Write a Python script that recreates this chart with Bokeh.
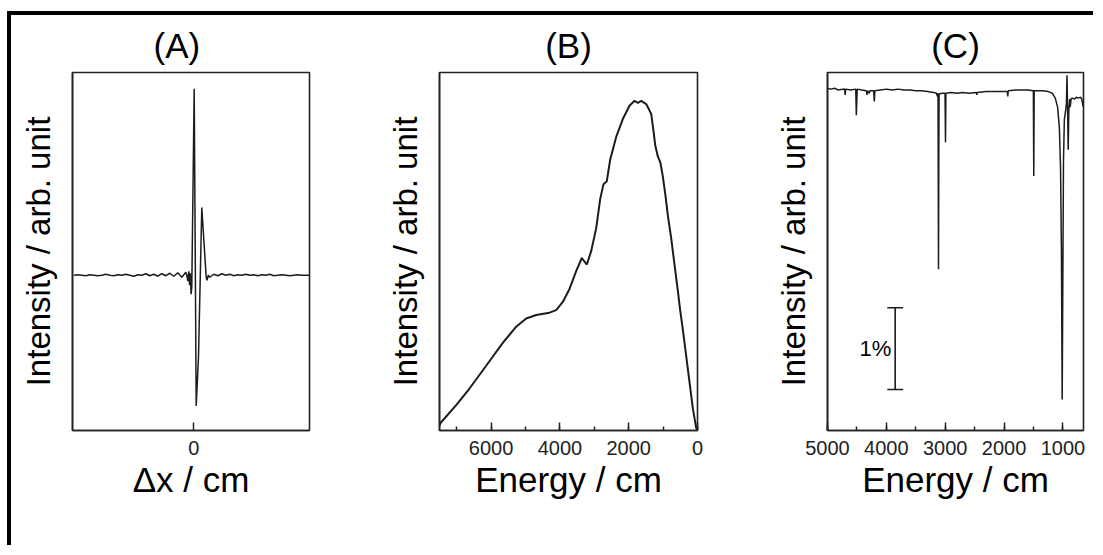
from bokeh.plotting import figure
from bokeh.layouts import row
from bokeh.models import FixedTicker, SingleIntervalTicker, Range1d
from bokeh.embed import file_html
from bokeh.resources import INLINE
from bokeh.core.properties import value

FONT = "Liberation Sans"
INK = "#1c1c1c"

# ---------------- data ----------------
titles = ["(A)", "(B)", "(C)"]
x_labels = ["\u0394x / cm", "Energy / cm", "Energy / cm"]
y_label = "Intensity / arb. unit"

# (A) interferogram
a_dx = [-0.120, -0.116, -0.112, -0.108, -0.104, -0.100, -0.096, -0.092, -0.088,
        -0.084, -0.080, -0.076, -0.072, -0.068, -0.064, -0.060, -0.056, -0.052,
        -0.048, -0.044, -0.040, -0.036, -0.032, -0.028, -0.024, -0.020, -0.016,
        -0.012, -0.008, -0.0070, -0.0060, -0.0050, -0.0042, -0.0035, -0.0027,
        -0.0020, 0.0004, 0.0024, 0.0047, 0.0080, 0.0124, 0.0132, 0.0145,
        0.016, 0.020, 0.024, 0.028, 0.032, 0.036, 0.040, 0.044, 0.048, 0.052,
        0.056, 0.060, 0.064, 0.068, 0.072, 0.076, 0.080, 0.084, 0.088, 0.092,
        0.096, 0.100, 0.104, 0.108, 0.112, 0.1157]
a_int = [0.000, 0.005, 0.000, -0.005, 0.005, 0.000, -0.005, 0.000, 0.010,
         0.000, -0.005, 0.005, 0.000, 0.010, 0.000, -0.010, 0.005, 0.000,
         0.015, -0.005, 0.010, -0.010, 0.015, -0.005, 0.020, -0.010, 0.025,
         -0.020, 0.030, 0.000, -0.060, 0.040, -0.100, 0.020, -0.190,
         -0.120, 1.87, -1.31, -0.82, 0.68, -0.02, -0.05, 0.00,
         -0.02, 0.01, -0.005, 0.015, 0.000, 0.010, -0.005, 0.005, 0.000, 0.010,
         0.000, 0.005, -0.005, 0.005, 0.000, 0.010, -0.005, 0.000, 0.005, 0.000,
         -0.005, 0.000, 0.005, 0.000, 0.000, 0.000]
a_ticks = [0]

# (B) single-beam spectrum
b_energy = [7500, 7471, 7015, 6628, 6143, 5660, 5271, 4980, 4689, 4302, 4108,
            3915, 3721, 3527, 3362, 3217, 3091, 2946, 2829, 2733, 2636, 2539,
            2364, 2171, 1977, 1831, 1734, 1637, 1491, 1346, 1269, 1230, 1153,
            1076, 1008, 930, 862, 765, 669, 572, 504, 426, 329, 232, 136, 39, 0]
b_int = [0.015, 0.023, 0.078, 0.129, 0.199, 0.269, 0.319, 0.344, 0.355, 0.362,
         0.370, 0.395, 0.435, 0.490, 0.530, 0.510, 0.551, 0.621, 0.711, 0.757,
         0.766, 0.832, 0.902, 0.957, 0.998, 1.013, 1.007, 1.013, 1.003, 0.973,
         0.912, 0.877, 0.842, 0.822, 0.781, 0.721, 0.661, 0.591, 0.510, 0.430,
         0.370, 0.310, 0.229, 0.149, 0.068, 0.008, 0.000]

# (C) transmittance spectrum (y in %)
c_energy = [5000, 4940, 4880, 4820, 4710, 4700, 4690, 4600, 4520, 4510, 4495,
            4420, 4340, 4330, 4320, 4290, 4280, 4215, 4205, 4195, 4100, 4000,
            3900, 3800, 3700, 3600, 3500, 3400, 3300, 3200, 3150, 3130, 3122,
            3118, 3114, 3108, 3104, 3050, 3003, 2995, 2988, 2900, 2800, 2700,
            2600, 2470, 2463, 2455, 2300, 2100, 1945, 1937, 1929, 1800, 1700,
            1600, 1502, 1495, 1488, 1350, 1250, 1180, 1130, 1090, 1060, 1040,
            1025, 1012, 1000, 990, 975, 955, 940, 930, 920, 910, 900, 885, 876,
            860, 842, 800, 774, 740, 700, 680, 662, 650]
c_trans = [4.18, 4.17, 4.18, 4.16, 4.17, 4.10, 4.17, 4.16, 4.17, 3.85, 4.17,
           4.16, 4.15, 4.10, 4.15, 4.12, 4.15, 4.15, 4.02, 4.15, 4.16, 4.17,
           4.16, 4.17, 4.16, 4.16, 4.15, 4.15, 4.14, 4.13, 4.12, 4.08, 4.12,
           3.00, 1.97, 3.50, 4.11, 4.12, 4.12, 3.52, 4.12, 4.13, 4.12, 4.13,
           4.12, 4.13, 4.10, 4.13, 4.14, 4.14, 4.14, 4.08, 4.15, 4.16, 4.16,
           4.16, 4.15, 3.11, 4.15, 4.15, 4.14, 4.12, 4.06, 3.95, 3.70, 3.20,
           2.20, 0.38, 2.00, 3.30, 3.80, 3.90, 4.00, 4.34, 3.90, 3.43, 3.90,
           4.05, 3.95, 4.05, 4.06, 4.05, 4.07, 4.06, 4.07, 4.05, 3.98, 3.95]
scale_bar_x = 3850
scale_bar_y = [0.5, 1.5]
scale_bar_cap = 135
scale_label = "1%"
scale_label_x = 3915
scale_label_y = 1.0


def base_fig(width, height, bl, br, bt, bb, xr, yr, title):
    p = figure(width=width, height=height,
               x_range=Range1d(*xr), y_range=Range1d(*yr),
               output_backend="svg", toolbar_location=None,
               min_border_left=bl, min_border_right=br,
               min_border_top=bt, min_border_bottom=bb)
    p.grid.visible = False
    p.background_fill_color = "white"
    p.border_fill_color = "white"
    p.outline_line_color = "#222222"
    p.outline_line_width = 1.6
    p.title.text = title
    p.title.align = "center"
    p.title.text_font = FONT
    p.title.text_font_size = "35px"
    p.title.text_font_style = "normal"
    p.title.text_color = "black"
    p.title.standoff = 16
    for ax in p.axis:
        ax.axis_line_color = "#222222"
        ax.axis_line_width = 1.6
        ax.major_tick_out = 0
        ax.minor_tick_out = 0
        ax.major_tick_line_color = "#222222"
        ax.minor_tick_line_color = "#222222"
        ax.major_tick_line_width = 1.5
        ax.minor_tick_line_width = 1.5
        ax.major_label_text_font = FONT
        ax.major_label_text_font_size = "20px"
        ax.major_label_text_color = "#222222"
        ax.major_label_standoff = 10
        ax.axis_label_text_font = FONT
        ax.axis_label_text_font_style = "normal"
        ax.axis_label_text_color = "black"
    p.yaxis.ticker = FixedTicker(ticks=[], minor_ticks=[])
    p.yaxis.major_tick_in = 0
    p.yaxis.minor_tick_in = 0
    p.yaxis.axis_label = y_label
    p.yaxis.axis_label_text_font_size = "33px"
    p.yaxis.axis_label_standoff = 16
    p.xaxis.major_tick_in = 8
    p.xaxis.minor_tick_in = 4
    p.xaxis.axis_label_text_font_size = "35px"
    p.xaxis.axis_label_standoff = 2
    return p


# Panel A
pa = base_fig(368, 530, 61, 70, 56, 115, (-0.1213, 0.1157), (-1.557, 2.033), titles[0])
pa.title.align = "left"
pa.title.offset = 81
pa.xaxis.ticker = FixedTicker(ticks=a_ticks, minor_ticks=[])
pa.xaxis.axis_label = x_labels[0]
pa.line(a_dx, a_int, line_color=INK, line_width=1.5)

# Panel B
pb = base_fig(370, 530, 60, 52, 56, 109, (7500, 0), (0, 1.1), titles[1])
pb.xaxis.ticker = SingleIntervalTicker(interval=2000, num_minor_ticks=2)
pb.xaxis.axis_label = x_labels[1]
pb.line(b_energy, b_int, line_color=INK, line_width=2)

# Panel C
pc = base_fig(344, 530, 78, 10, 55, 112, (5000, 650), (0, 4.373), titles[2])
pc.xaxis.ticker = SingleIntervalTicker(interval=1000, num_minor_ticks=2)
pc.xaxis.axis_label = x_labels[2]
pc.line(c_energy, c_trans, line_color=INK, line_width=1.5)
pc.segment(x0=[scale_bar_x], y0=[scale_bar_y[0]], x1=[scale_bar_x], y1=[scale_bar_y[1]],
           line_color=INK, line_width=1.6)
pc.segment(x0=[scale_bar_x - scale_bar_cap] * 2, y0=scale_bar_y,
           x1=[scale_bar_x + scale_bar_cap] * 2, y1=scale_bar_y,
           line_color=INK, line_width=1.6)
pc.text(x=[scale_label_x], y=[scale_label_y], text=[scale_label],
        text_align="right", text_baseline="middle",
        text_font=value(FONT), text_font_size="22px", text_color="black")

layout = row(pa, pb, pc, margin=(11, 0, 0, 7),
             styles={"border-top": "4px solid black",
                     "border-left": "4px solid black"})

open("out.html", "w").write(file_html(layout, INLINE))
